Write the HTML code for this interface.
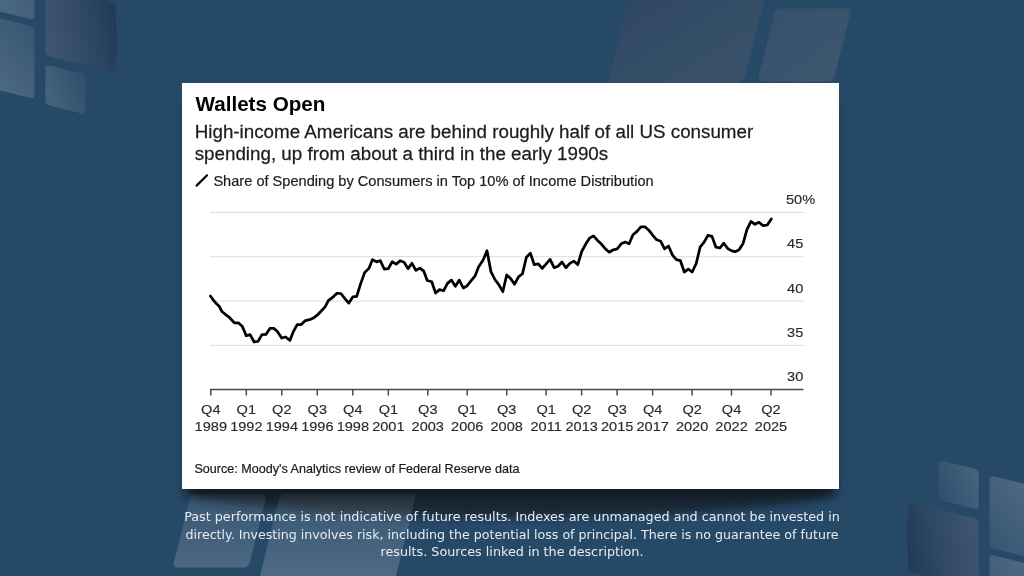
<!DOCTYPE html>
<html><head><meta charset="utf-8">
<style>
html,body{margin:0;padding:0;}
body{width:1024px;height:576px;overflow:hidden;position:relative;background:#274968;font-family:"Liberation Sans",Arial,sans-serif;}
.abs{position:absolute;left:0;top:0;}
#card{position:absolute;left:182px;top:83px;width:657px;height:406px;background:#fff;box-shadow:0 12px 10px -5px rgba(14,22,32,0.8);}
text{font-family:"Liberation Sans",Arial,sans-serif;}
</style></head><body>
<svg class="abs" width="1024" height="576" viewBox="0 0 1024 576">
<defs>
<linearGradient id="gL" x1="0" y1="1" x2="1" y2="0"><stop offset="0" stop-color="#fff" stop-opacity="0.21"/><stop offset="1" stop-color="#fff" stop-opacity="0.07"/></linearGradient>
<linearGradient id="gBig" x1="0" y1="0.6" x2="1" y2="0.4"><stop offset="0" stop-color="rgb(110,112,132)" stop-opacity="0.3"/><stop offset="1" stop-color="rgb(28,38,62)" stop-opacity="0.38"/></linearGradient>
<linearGradient id="gS" x1="0" y1="0.7" x2="1" y2="0.3"><stop offset="0" stop-color="#fff" stop-opacity="0.14"/><stop offset="1" stop-color="#fff" stop-opacity="0.04"/></linearGradient>
<linearGradient id="gA" x1="0" y1="0" x2="1" y2="1"><stop offset="0" stop-color="rgb(60,58,85)" stop-opacity="0.35"/><stop offset="0.5" stop-color="rgb(88,88,100)" stop-opacity="0.25"/><stop offset="1" stop-color="rgb(118,106,114)" stop-opacity="0.25"/></linearGradient>
<linearGradient id="gB" x1="0" y1="0" x2="1" y2="1"><stop offset="0" stop-color="rgb(110,108,122)" stop-opacity="0.22"/><stop offset="1" stop-color="rgb(130,125,135)" stop-opacity="0.25"/></linearGradient>
<linearGradient id="gC" x1="0" y1="0" x2="0" y2="1"><stop offset="0" stop-color="#fff" stop-opacity="0.08"/><stop offset="1" stop-color="#fff" stop-opacity="0.17"/></linearGradient>
<linearGradient id="gD" x1="0" y1="0" x2="0" y2="1"><stop offset="0" stop-color="#fff" stop-opacity="0.08"/><stop offset="0.8" stop-color="#fff" stop-opacity="0.18"/></linearGradient>
</defs><filter id="blurS" x="-20%" y="-100%" width="140%" height="300%"><feGaussianBlur stdDeviation="5"/></filter><ellipse cx="510" cy="489" rx="325" ry="28" fill="#16222e" fill-opacity="0.9" filter="url(#blurS)"/><g><rect x="0" y="0" width="71" height="72" rx="4" fill="url(#gL)" transform="translate(-36.6 -69.5) skewY(13.8)"/>
<rect x="0" y="0" width="71" height="72.3" rx="4" fill="url(#gL)" transform="translate(-36.6 9.3) skewY(13.8)"/>
<rect x="0" y="0" width="71" height="70" rx="4" fill="url(#gBig)" transform="translate(45.4 -14.8) skewY(13.8)"/>
<rect x="0" y="0" width="40" height="40" rx="4" fill="url(#gS)" transform="translate(45.4 64.6) skewY(13.8)"/><rect x="0" y="0" width="136" height="101.5" rx="5" fill="url(#gA)" transform="translate(632.9 -19) skewX(-14)"/>
<rect x="0" y="0" width="76" height="73" rx="5" fill="url(#gB)" transform="translate(775.5 8.4) skewX(-14)"/><rect x="0" y="0" width="76" height="73" rx="5" fill="url(#gC)" transform="translate(190.75 494.6) skewX(-14)"/>
<rect x="0" y="0" width="136" height="101.5" rx="5" fill="url(#gD)" transform="translate(280.5 493.5) skewX(-14)"/></g><g transform="rotate(180 512 287.2)"><rect x="0" y="0" width="71" height="72" rx="4" fill="url(#gL)" transform="translate(-36.6 -69.5) skewY(13.8)"/>
<rect x="0" y="0" width="71" height="72.3" rx="4" fill="url(#gL)" transform="translate(-36.6 9.3) skewY(13.8)"/>
<rect x="0" y="0" width="71" height="70" rx="4" fill="url(#gBig)" transform="translate(45.4 -14.8) skewY(13.8)"/>
<rect x="0" y="0" width="40" height="40" rx="4" fill="url(#gS)" transform="translate(45.4 64.6) skewY(13.8)"/></g>
</svg>
<div id="card"></div>
<svg class="abs" width="1024" height="576" viewBox="0 0 1024 576">
<line x1="210" y1="212.4" x2="803.5" y2="212.4" stroke="#dcdcdc" stroke-width="1"/>
<line x1="210" y1="256.7" x2="803.5" y2="256.7" stroke="#dcdcdc" stroke-width="1"/>
<line x1="210" y1="301.1" x2="803.5" y2="301.1" stroke="#dcdcdc" stroke-width="1"/>
<line x1="210" y1="345.4" x2="803.5" y2="345.4" stroke="#dcdcdc" stroke-width="1"/>
<line x1="210" y1="389.5" x2="803.5" y2="389.5" stroke="#4a4a4a" stroke-width="1.4"/>
<line x1="210.8" y1="389.5" x2="210.8" y2="395.5" stroke="#4a4a4a" stroke-width="1.5"/>
<text transform="translate(210.80 413.80) scale(1.07 1)" text-anchor="middle" style="font-size:13.6px;fill:#2a2a2a;stroke:#2a2a2a;stroke-width:0.15px;">Q4</text>
<text transform="translate(210.80 430.80) scale(1.07 1)" text-anchor="middle" style="font-size:13.6px;fill:#2a2a2a;stroke:#2a2a2a;stroke-width:0.15px;">1989</text>
<line x1="246.3" y1="389.5" x2="246.3" y2="395.5" stroke="#4a4a4a" stroke-width="1.5"/>
<text transform="translate(246.31 413.80) scale(1.07 1)" text-anchor="middle" style="font-size:13.6px;fill:#2a2a2a;stroke:#2a2a2a;stroke-width:0.15px;">Q1</text>
<text transform="translate(246.31 430.80) scale(1.07 1)" text-anchor="middle" style="font-size:13.6px;fill:#2a2a2a;stroke:#2a2a2a;stroke-width:0.15px;">1992</text>
<line x1="281.8" y1="389.5" x2="281.8" y2="395.5" stroke="#4a4a4a" stroke-width="1.5"/>
<text transform="translate(281.81 413.80) scale(1.07 1)" text-anchor="middle" style="font-size:13.6px;fill:#2a2a2a;stroke:#2a2a2a;stroke-width:0.15px;">Q2</text>
<text transform="translate(281.81 430.80) scale(1.07 1)" text-anchor="middle" style="font-size:13.6px;fill:#2a2a2a;stroke:#2a2a2a;stroke-width:0.15px;">1994</text>
<line x1="317.3" y1="389.5" x2="317.3" y2="395.5" stroke="#4a4a4a" stroke-width="1.5"/>
<text transform="translate(317.31 413.80) scale(1.07 1)" text-anchor="middle" style="font-size:13.6px;fill:#2a2a2a;stroke:#2a2a2a;stroke-width:0.15px;">Q3</text>
<text transform="translate(317.31 430.80) scale(1.07 1)" text-anchor="middle" style="font-size:13.6px;fill:#2a2a2a;stroke:#2a2a2a;stroke-width:0.15px;">1996</text>
<line x1="352.8" y1="389.5" x2="352.8" y2="395.5" stroke="#4a4a4a" stroke-width="1.5"/>
<text transform="translate(352.82 413.80) scale(1.07 1)" text-anchor="middle" style="font-size:13.6px;fill:#2a2a2a;stroke:#2a2a2a;stroke-width:0.15px;">Q4</text>
<text transform="translate(352.82 430.80) scale(1.07 1)" text-anchor="middle" style="font-size:13.6px;fill:#2a2a2a;stroke:#2a2a2a;stroke-width:0.15px;">1998</text>
<line x1="388.3" y1="389.5" x2="388.3" y2="395.5" stroke="#4a4a4a" stroke-width="1.5"/>
<text transform="translate(388.33 413.80) scale(1.07 1)" text-anchor="middle" style="font-size:13.6px;fill:#2a2a2a;stroke:#2a2a2a;stroke-width:0.15px;">Q1</text>
<text transform="translate(388.33 430.80) scale(1.07 1)" text-anchor="middle" style="font-size:13.6px;fill:#2a2a2a;stroke:#2a2a2a;stroke-width:0.15px;">2001</text>
<line x1="427.8" y1="389.5" x2="427.8" y2="395.5" stroke="#4a4a4a" stroke-width="1.5"/>
<text transform="translate(427.77 413.80) scale(1.07 1)" text-anchor="middle" style="font-size:13.6px;fill:#2a2a2a;stroke:#2a2a2a;stroke-width:0.15px;">Q3</text>
<text transform="translate(427.77 430.80) scale(1.07 1)" text-anchor="middle" style="font-size:13.6px;fill:#2a2a2a;stroke:#2a2a2a;stroke-width:0.15px;">2003</text>
<line x1="467.2" y1="389.5" x2="467.2" y2="395.5" stroke="#4a4a4a" stroke-width="1.5"/>
<text transform="translate(467.23 413.80) scale(1.07 1)" text-anchor="middle" style="font-size:13.6px;fill:#2a2a2a;stroke:#2a2a2a;stroke-width:0.15px;">Q1</text>
<text transform="translate(467.23 430.80) scale(1.07 1)" text-anchor="middle" style="font-size:13.6px;fill:#2a2a2a;stroke:#2a2a2a;stroke-width:0.15px;">2006</text>
<line x1="506.7" y1="389.5" x2="506.7" y2="395.5" stroke="#4a4a4a" stroke-width="1.5"/>
<text transform="translate(506.68 413.80) scale(1.07 1)" text-anchor="middle" style="font-size:13.6px;fill:#2a2a2a;stroke:#2a2a2a;stroke-width:0.15px;">Q3</text>
<text transform="translate(506.68 430.80) scale(1.07 1)" text-anchor="middle" style="font-size:13.6px;fill:#2a2a2a;stroke:#2a2a2a;stroke-width:0.15px;">2008</text>
<line x1="546.1" y1="389.5" x2="546.1" y2="395.5" stroke="#4a4a4a" stroke-width="1.5"/>
<text transform="translate(546.12 413.80) scale(1.07 1)" text-anchor="middle" style="font-size:13.6px;fill:#2a2a2a;stroke:#2a2a2a;stroke-width:0.15px;">Q1</text>
<text transform="translate(546.12 430.80) scale(1.07 1)" text-anchor="middle" style="font-size:13.6px;fill:#2a2a2a;stroke:#2a2a2a;stroke-width:0.15px;">2011</text>
<line x1="581.6" y1="389.5" x2="581.6" y2="395.5" stroke="#4a4a4a" stroke-width="1.5"/>
<text transform="translate(581.63 413.80) scale(1.07 1)" text-anchor="middle" style="font-size:13.6px;fill:#2a2a2a;stroke:#2a2a2a;stroke-width:0.15px;">Q2</text>
<text transform="translate(581.63 430.80) scale(1.07 1)" text-anchor="middle" style="font-size:13.6px;fill:#2a2a2a;stroke:#2a2a2a;stroke-width:0.15px;">2013</text>
<line x1="617.1" y1="389.5" x2="617.1" y2="395.5" stroke="#4a4a4a" stroke-width="1.5"/>
<text transform="translate(617.13 413.80) scale(1.07 1)" text-anchor="middle" style="font-size:13.6px;fill:#2a2a2a;stroke:#2a2a2a;stroke-width:0.15px;">Q3</text>
<text transform="translate(617.13 430.80) scale(1.07 1)" text-anchor="middle" style="font-size:13.6px;fill:#2a2a2a;stroke:#2a2a2a;stroke-width:0.15px;">2015</text>
<line x1="652.6" y1="389.5" x2="652.6" y2="395.5" stroke="#4a4a4a" stroke-width="1.5"/>
<text transform="translate(652.64 413.80) scale(1.07 1)" text-anchor="middle" style="font-size:13.6px;fill:#2a2a2a;stroke:#2a2a2a;stroke-width:0.15px;">Q4</text>
<text transform="translate(652.64 430.80) scale(1.07 1)" text-anchor="middle" style="font-size:13.6px;fill:#2a2a2a;stroke:#2a2a2a;stroke-width:0.15px;">2017</text>
<line x1="692.1" y1="389.5" x2="692.1" y2="395.5" stroke="#4a4a4a" stroke-width="1.5"/>
<text transform="translate(692.09 413.80) scale(1.07 1)" text-anchor="middle" style="font-size:13.6px;fill:#2a2a2a;stroke:#2a2a2a;stroke-width:0.15px;">Q2</text>
<text transform="translate(692.09 430.80) scale(1.07 1)" text-anchor="middle" style="font-size:13.6px;fill:#2a2a2a;stroke:#2a2a2a;stroke-width:0.15px;">2020</text>
<line x1="731.5" y1="389.5" x2="731.5" y2="395.5" stroke="#4a4a4a" stroke-width="1.5"/>
<text transform="translate(731.54 413.80) scale(1.07 1)" text-anchor="middle" style="font-size:13.6px;fill:#2a2a2a;stroke:#2a2a2a;stroke-width:0.15px;">Q4</text>
<text transform="translate(731.54 430.80) scale(1.07 1)" text-anchor="middle" style="font-size:13.6px;fill:#2a2a2a;stroke:#2a2a2a;stroke-width:0.15px;">2022</text>
<line x1="771.0" y1="389.5" x2="771.0" y2="395.5" stroke="#4a4a4a" stroke-width="1.5"/>
<text transform="translate(770.99 413.80) scale(1.07 1)" text-anchor="middle" style="font-size:13.6px;fill:#2a2a2a;stroke:#2a2a2a;stroke-width:0.15px;">Q2</text>
<text transform="translate(770.99 430.80) scale(1.07 1)" text-anchor="middle" style="font-size:13.6px;fill:#2a2a2a;stroke:#2a2a2a;stroke-width:0.15px;">2025</text>
<text transform="translate(786.00 203.90) scale(1.07 1)" style="font-size:13.6px;fill:#2a2a2a;stroke:#2a2a2a;stroke-width:0.15px;">50%</text>
<text transform="translate(803.30 248.20) scale(1.07 1)" text-anchor="end" style="font-size:13.6px;fill:#2a2a2a;stroke:#2a2a2a;stroke-width:0.15px;">45</text>
<text transform="translate(803.30 292.60) scale(1.07 1)" text-anchor="end" style="font-size:13.6px;fill:#2a2a2a;stroke:#2a2a2a;stroke-width:0.15px;">40</text>
<text transform="translate(803.30 336.90) scale(1.07 1)" text-anchor="end" style="font-size:13.6px;fill:#2a2a2a;stroke:#2a2a2a;stroke-width:0.15px;">35</text>
<text transform="translate(803.30 381.00) scale(1.07 1)" text-anchor="end" style="font-size:13.6px;fill:#2a2a2a;stroke:#2a2a2a;stroke-width:0.15px;">30</text>
<path d="M210.4,296.0 L214.0,300.8 L216.3,303.6 L219.1,306.2 L221.9,311.5 L224.7,313.8 L228.7,316.8 L231.5,319.8 L234.3,322.8 L238.3,322.8 L242.2,326.2 L243.9,330.1 L246.2,335.8 L250.1,334.6 L254.1,342.0 L258.0,341.4 L262.0,334.6 L265.9,334.4 L269.9,328.4 L273.8,328.4 L277.2,331.3 L281.7,338.0 L285.6,337.0 L289.9,340.4 L293.5,331.3 L297.2,324.6 L301.2,324.6 L305.4,320.6 L309.6,319.7 L313.3,318.1 L317.2,315.2 L321.2,311.0 L325.1,306.9 L328.5,300.3 L332.5,297.5 L337.0,293.3 L340.9,293.5 L344.9,298.6 L348.8,303.1 L352.8,296.9 L356.7,296.4 L360.6,283.9 L364.6,272.6 L369.1,268.1 L372.5,259.6 L376.4,261.8 L380.4,260.7 L384.3,269.2 L388.3,268.6 L392.2,261.8 L396.2,264.1 L400.1,260.7 L404.1,262.2 L408.0,268.6 L412.0,263.3 L415.9,270.3 L419.9,268.1 L423.8,271.2 L427.2,280.5 L431.7,281.8 L435.6,293.0 L439.6,289.6 L443.5,290.8 L447.5,283.4 L451.4,280.1 L455.4,286.3 L459.3,280.1 L463.3,288.0 L467.2,285.7 L471.2,280.6 L475.1,275.9 L478.5,267.1 L483.0,260.3 L487.0,250.7 L490.9,271.6 L494.9,279.5 L498.8,284.6 L502.8,291.7 L506.7,275.0 L510.6,278.6 L514.6,284.2 L518.5,276.9 L522.5,273.7 L526.4,257.2 L530.4,253.2 L534.3,264.7 L538.3,263.9 L542.2,268.4 L546.2,263.9 L550.1,259.4 L554.1,267.7 L558.0,266.2 L562.0,262.0 L565.9,267.7 L569.9,263.4 L573.8,261.1 L577.8,264.7 L581.7,251.5 L585.6,244.3 L589.6,238.1 L593.5,235.9 L597.5,240.4 L601.4,244.1 L605.4,248.9 L609.3,252.2 L613.3,249.8 L617.2,248.9 L621.2,243.8 L625.1,242.1 L629.1,243.8 L633.0,234.7 L637.0,231.4 L640.9,226.8 L644.9,226.8 L648.8,230.2 L652.8,235.3 L656.7,239.8 L660.6,241.2 L664.6,248.9 L668.5,246.0 L672.5,255.1 L676.4,259.6 L680.4,260.7 L684.3,272.0 L688.3,269.2 L692.2,272.0 L696.2,263.5 L700.1,247.2 L704.1,242.1 L708.0,235.3 L712.0,236.4 L715.9,247.2 L719.9,248.0 L723.8,243.2 L727.8,248.6 L731.7,250.9 L735.2,251.7 L739.1,249.7 L743.1,243.4 L747.0,229.3 L751.0,221.4 L754.9,224.3 L758.9,222.3 L763.4,225.7 L767.3,225.0 L771.3,219.0" fill="none" stroke="#000" stroke-width="2.75" stroke-linejoin="round" stroke-linecap="round"/>
<text transform="translate(195.50 110.50) scale(0.983 1)" style="font-size:21.0px;fill:#000;font-weight:bold;">Wallets Open</text>
<text transform="translate(194.70 137.60) scale(0.979 1)" style="font-size:19.2px;fill:#1c1c1c;stroke:#1c1c1c;stroke-width:0.25px;">High-income Americans are behind roughly half of all US consumer</text>
<text transform="translate(194.70 160.40) scale(0.979 1)" style="font-size:19.2px;fill:#1c1c1c;stroke:#1c1c1c;stroke-width:0.25px;">spending, up from about a third in the early 1990s</text>
<line x1="196.6" y1="185.6" x2="207.1" y2="175.3" stroke="#000" stroke-width="2.2" stroke-linecap="round"/>
<text x="213.40" y="186.10" style="font-size:14.6px;fill:#1c1c1c;stroke:#1c1c1c;stroke-width:0.2px;">Share of Spending by Consumers in Top 10% of Income Distribution</text>
<text x="194.40" y="473.10" style="font-size:12.6px;fill:#1a1a1a;stroke:#1a1a1a;stroke-width:0.2px;">Source: Moody's Analytics review of Federal Reserve data</text>
<text x="512.00" y="520.50" text-anchor="middle" style="font-size:12.75px;fill:#e8ecf0;font-family:&quot;DejaVu Sans&quot;,sans-serif;">Past performance is not indicative of future results. Indexes are unmanaged and cannot be invested in</text>
<text transform="translate(512.00 538.50) scale(0.991 1)" text-anchor="middle" style="font-size:12.75px;fill:#e8ecf0;font-family:&quot;DejaVu Sans&quot;,sans-serif;">directly. Investing involves risk, including the potential loss of principal. There is no guarantee of future</text>
<text x="512.00" y="556.00" text-anchor="middle" style="font-size:12.75px;fill:#e8ecf0;font-family:&quot;DejaVu Sans&quot;,sans-serif;">results. Sources linked in the description.</text>
</svg>
</body></html>
